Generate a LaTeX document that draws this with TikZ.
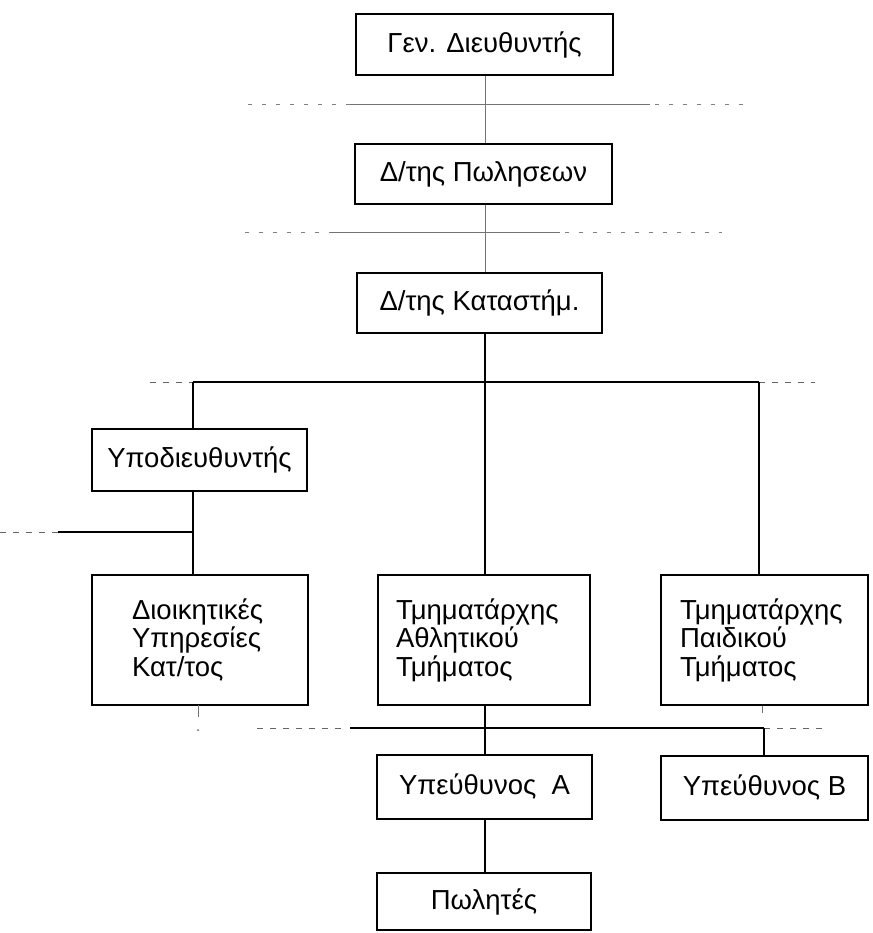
\documentclass[tikz,border=0pt]{standalone}
\usepackage{fontspec}
\setmainfont{Liberation Sans}
\begin{document}
\begin{tikzpicture}[x=1pt,y=-1pt,
  box/.style={draw=black, line width=1.1pt, inner sep=0pt, font=\fontsize{27.5}{28.5}\selectfont},
  multibox/.style={box, align=left, minimum height=130pt},
  link/.style={draw=black, line width=1.1pt},
  faint/.style={draw=black!55, line width=0.9pt},
  ext/.style={draw=black!60, line width=1pt, dash pattern=on 6pt off 7pt},
  sparse/.style={draw=black!50, line width=0.9pt, dash pattern=on 4pt off 10pt}]
\useasboundingbox (0,0) rectangle (872,933);

% boxes of the upper management chain
\node[box, minimum width=257pt, minimum height=61pt] (gen) at (484.5,44.5) {Γεν. Διευθυντής};
\node[box, minimum width=257pt, minimum height=60pt] (sales) at (483.5,174) {Δ/της Πωλησεων};
\node[box, minimum width=245pt, minimum height=60pt] (store) at (479.5,303) {Δ/της Καταστήμ.};

% deputy and department heads
\node[box, minimum width=215pt, minimum height=62pt] (deputy) at (199.5,460) {Υποδιευθυντής};
\node[multibox, minimum width=216pt, text width=136pt, inner xsep=40pt] (admin) at (200,640)
  {Διοικητικές\\Υπηρεσίες\\Κατ/τος};
\node[multibox, minimum width=212pt, text width=176pt, inner xsep=18pt] (sport) at (484,640)
  {Τμηματάρχης\\Αθλητικού\\Τμήματος};
\node[multibox, minimum width=207pt, text width=169pt, inner xsep=19pt] (kids) at (764.5,640)
  {Τμηματάρχης\\Παιδικού\\Τμήματος};

% sales staff
\node[box, minimum width=215pt, minimum height=64pt] (respA) at (484.5,787) {Υπεύθυνος\ \ A};
\node[box, minimum width=207pt, minimum height=64pt] (respB) at (764.5,788) {Υπεύθυνος Β};
\node[box, minimum width=214pt, minimum height=57pt] (seller) at (484,901.5) {Πωλητές};

% junction points
\coordinate (t1) at (485,104);
\coordinate (t2) at (485,232);
\coordinate (j1) at (485,382);
\coordinate (j1l) at (193,382);
\coordinate (j1r) at (759,382);
\coordinate (j2) at (193,532);
\coordinate (j3) at (485,728);
\coordinate (j3r) at (764,728);

% upper staff lines
\draw[faint] (gen.south -| t1) -- (sales.north -| t1);
\draw[faint] (sales.south -| t2) -- (store.north -| t2);
\draw[sparse] (248,104) -- (350,104);
\draw[faint] (350,104) -- (650,104);
\draw[sparse] (655,104) -- (745,104);
\draw[sparse] (245,232) -- (330,232);
\draw[faint] (330,232) -- (560,232);
\draw[sparse] (565,232) -- (722,232);

% store manager level
\draw[link] (store.south -| j1) -- (sport.north -| j1);
\draw[link] (j1l) -- (j1r);
\draw[ext] (150,382) -- (j1l);
\draw[ext] (j1r) -- (815,382);
\draw[link] (j1l) -- (deputy.north -| j1l);
\draw[link] (j1r) -- (kids.north -| j1r);

% deputy branch
\draw[link] (deputy.south -| j2) -- (admin.north -| j2);
\draw[link] (58,532) -- (j2);
\draw[ext] (0,532) -- (58,532);
\draw[faint] (198,705) -- (198,717);
\fill[black!60] (198,730) circle (1pt);

% sales staff level
\draw[link] (sport.south -| j3) -- (respA.north -| j3);
\draw[link] (350,728) -- (j3r);
\draw[ext] (257,728) -- (342,728);
\draw[ext] (j3r) -- (827,728);
\draw[link] (j3r) -- (respB.north -| j3r);
\draw[faint] (kids.south -| 762,0) -- (762,713);
\draw[link] (respA.south -| j3) -- (seller.north -| j3);
\end{tikzpicture}
\end{document}
